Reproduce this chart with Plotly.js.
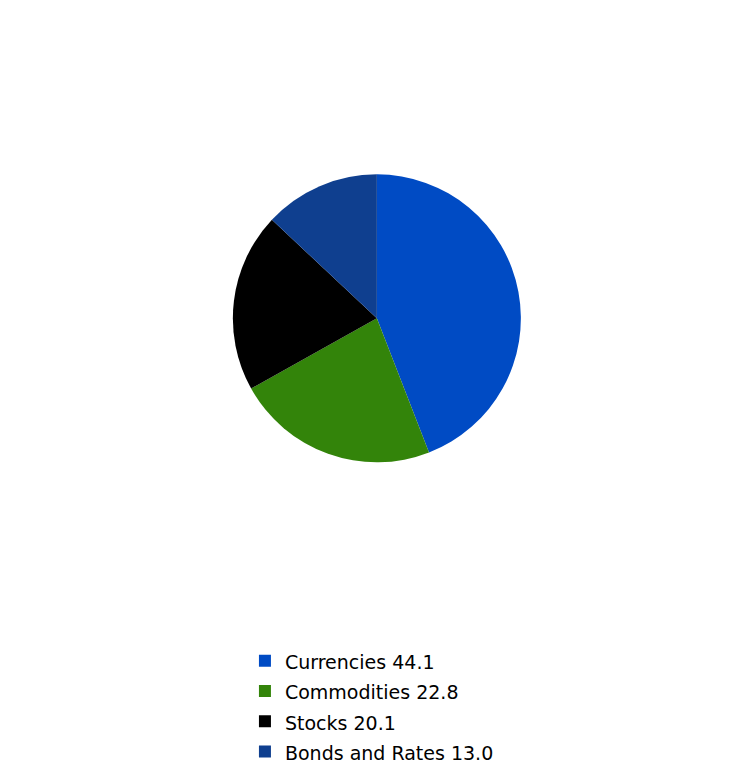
<!DOCTYPE html>
<html>
<head>
<meta charset="utf-8">
<script src="https://cdn.plot.ly/plotly-3.0.1.min.js"></script>
<style>
  html, body { margin: 0; padding: 0; background: #ffffff; }
  #chart { width: 756px; height: 768px; }
</style>
</head>
<body>
<div id="chart"></div>
<script>
  // Share of volume by asset class.
  const labels = ["Currencies", "Commodities", "Stocks", "Bonds and Rates"];
  const shares = [44.1, 22.8, 20.1, 13.0];
  const colors = ["#004bc4", "#33840a", "#000000", "#0f3f8f"];

  // Legend rows sit 30px apart in the original, so the legend font is set
  // large for the row height and the label text itself is shrunk back.
  const trace = {
    type: "pie",
    labels: labels.map(
      (name, i) => '<span style="font-size:19px">' + name + " " + shares[i].toFixed(1) + "</span>"
    ),
    values: shares,
    sort: false,
    direction: "clockwise",
    rotation: 0,
    marker: { colors: colors, line: { width: 0 } },
    textinfo: "none",
    hoverinfo: "label",
    domain: { x: [0.308, 0.689], y: [0.398, 0.773] },
  };

  const layout = {
    width: 756,
    height: 768,
    // autoexpand off: the legend near the bottom edge must not shrink the pie
    margin: { l: 0, r: 0, t: 0, b: 0, autoexpand: false },
    paper_bgcolor: "#ffffff",
    font: { family: "DejaVu Sans, sans-serif", color: "#000000", size: 17 },
    showlegend: true,
    legend: {
      orientation: "v",
      x: 0.324,
      xanchor: "left",
      y: 0.08,
      yanchor: "middle",
      font: { size: 21, color: "#000000" },
      bgcolor: "rgba(0,0,0,0)",
    },
  };

  Plotly.newPlot("chart", [trace], layout, { displayModeBar: false, staticPlot: true });
</script>
</body>
</html>
